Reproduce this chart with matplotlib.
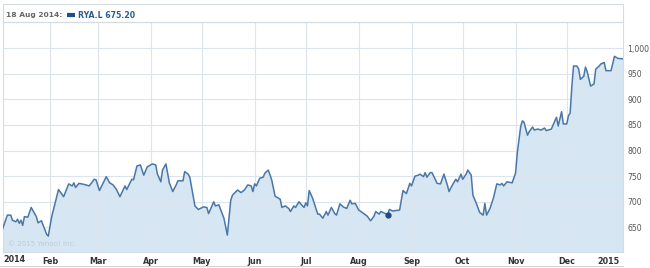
import matplotlib
matplotlib.use('Agg')
import matplotlib.pyplot as plt
from matplotlib.lines import Line2D
from matplotlib.patches import Rectangle
import pandas as pd

# RYA.L daily close (extremes of the curve)
dates = ['2014-01-04', '2014-01-07', '2014-01-09', '2014-01-10', '2014-01-12', '2014-01-13',
         '2014-01-14', '2014-01-15', '2014-01-16', '2014-01-17', '2014-01-19', '2014-01-21',
         '2014-01-24', '2014-01-25', '2014-01-27', '2014-01-30', '2014-01-31', '2014-02-02',
         '2014-02-03', '2014-02-06', '2014-02-09', '2014-02-12', '2014-02-14', '2014-02-15',
         '2014-02-16', '2014-02-18', '2014-02-21', '2014-02-24', '2014-02-27', '2014-02-28',
         '2014-03-02', '2014-03-06', '2014-03-08', '2014-03-10', '2014-03-12', '2014-03-14',
         '2014-03-17', '2014-03-18', '2014-03-21', '2014-03-22', '2014-03-24', '2014-03-26',
         '2014-03-28', '2014-03-30', '2014-04-02', '2014-04-04', '2014-04-05', '2014-04-07',
         '2014-04-08', '2014-04-10', '2014-04-12', '2014-04-14', '2014-04-16', '2014-04-17',
         '2014-04-20', '2014-04-21', '2014-04-23', '2014-04-24', '2014-04-27', '2014-04-29',
         '2014-05-02', '2014-05-04', '2014-05-05', '2014-05-08', '2014-05-09', '2014-05-11',
         '2014-05-14', '2014-05-16', '2014-05-18', '2014-05-19', '2014-05-22', '2014-05-24',
         '2014-05-26', '2014-05-28', '2014-05-30', '2014-05-31', '2014-06-01', '2014-06-02',
         '2014-06-04', '2014-06-06', '2014-06-07', '2014-06-09', '2014-06-11', '2014-06-13',
         '2014-06-16', '2014-06-17', '2014-06-19', '2014-06-21', '2014-06-22', '2014-06-24',
         '2014-06-25', '2014-06-27', '2014-06-28', '2014-06-30', '2014-07-01', '2014-07-02',
         '2014-07-03', '2014-07-05', '2014-07-08', '2014-07-09', '2014-07-11', '2014-07-13',
         '2014-07-14', '2014-07-16', '2014-07-18', '2014-07-19', '2014-07-21', '2014-07-23',
         '2014-07-25', '2014-07-27', '2014-07-28', '2014-07-30', '2014-08-01', '2014-08-04',
         '2014-08-06', '2014-08-08', '2014-08-10', '2014-08-11', '2014-08-13', '2014-08-14',
         '2014-08-18', '2014-08-19', '2014-08-21', '2014-08-25', '2014-08-27', '2014-08-29',
         '2014-08-31', '2014-09-01', '2014-09-03', '2014-09-05', '2014-09-06', '2014-09-08',
         '2014-09-09', '2014-09-10', '2014-09-12', '2014-09-13', '2014-09-16', '2014-09-18',
         '2014-09-20', '2014-09-22', '2014-09-23', '2014-09-25', '2014-09-27', '2014-09-28',
         '2014-09-30', '2014-10-01', '2014-10-03', '2014-10-04', '2014-10-06', '2014-10-07',
         '2014-10-09', '2014-10-11', '2014-10-13', '2014-10-14', '2014-10-15', '2014-10-17',
         '2014-10-19', '2014-10-21', '2014-10-23', '2014-10-24', '2014-10-25', '2014-10-27',
         '2014-10-30', '2014-11-01', '2014-11-02', '2014-11-04', '2014-11-05', '2014-11-06',
         '2014-11-08', '2014-11-09', '2014-11-11', '2014-11-12', '2014-11-14', '2014-11-16',
         '2014-11-18', '2014-11-19', '2014-11-22', '2014-11-23', '2014-11-25', '2014-11-26',
         '2014-11-28', '2014-11-29', '2014-12-01', '2014-12-02', '2014-12-03', '2014-12-04',
         '2014-12-05', '2014-12-07', '2014-12-08', '2014-12-09', '2014-12-11', '2014-12-12',
         '2014-12-13', '2014-12-15', '2014-12-17', '2014-12-18', '2014-12-20', '2014-12-21',
         '2014-12-23', '2014-12-24', '2014-12-27', '2014-12-29', '2014-12-31', '2015-01-03']
prices = [645, 674, 674, 664, 661, 666, 658, 664, 654, 671, 670, 689,
          671, 659, 663, 637, 633, 671, 684, 724, 710, 735, 731, 737,
          728, 736, 734, 731, 744, 743, 722, 749, 737, 733, 724, 710,
          731, 724, 744, 743, 770, 772, 752, 768, 774, 772, 754, 739,
          762, 774, 737, 720, 733, 741, 741, 759, 754, 748, 692, 685,
          690, 689, 677, 700, 692, 694, 668, 635, 703, 713, 723, 718,
          723, 733, 731, 720, 735, 731, 746, 748, 756, 762, 743, 711,
          705, 689, 692, 687, 681, 692, 689, 700, 696, 689, 698, 692,
          722, 707, 676, 676, 668, 681, 674, 689, 677, 674, 696, 690,
          687, 703, 696, 697, 684, 677, 672, 663, 672, 681, 676, 681,
          675.2, 685, 682, 684, 722, 716, 736, 731, 750, 752, 754, 749,
          757, 748, 757, 757, 736, 735, 754, 733, 720, 733, 744, 739,
          754, 744, 754, 762, 752, 713, 697, 679, 674, 697, 674, 687,
          707, 735, 733, 736, 731, 739, 737, 756, 795, 847, 858, 855,
          830, 837, 846, 840, 842, 840, 844, 839, 842, 850, 865, 848,
          876, 852, 852, 868, 873, 925, 965, 965, 959, 939, 945, 963,
          954, 926, 930, 959, 965, 969, 972, 956, 956, 984, 980, 979]

marker_date = '2014-08-18'
marker_price = 675.20
month_ticks = ['2014-02-01', '2014-03-01', '2014-04-01', '2014-05-01', '2014-06-01',
               '2014-07-01', '2014-08-01', '2014-09-01', '2014-10-01', '2014-11-01',
               '2014-12-01', '2015-01-01']
month_labels = ['Feb', 'Mar', 'Apr', 'May', 'Jun', 'Jul', 'Aug', 'Sep', 'Oct', 'Nov', 'Dec', '2015']
y_ticks = [650, 700, 750, 800, 850, 900, 950, 1000]

W, H = 650, 268
fig = plt.figure(figsize=(W / 100, H / 100), dpi=100)
ax = fig.add_axes([3 / W, 16 / H, 620 / W, 230 / H])

x = pd.to_datetime(dates)
ax.fill_between(x, prices, 0, color='#d6e6f2', lw=0, zorder=1)
ax.plot(x, prices, color='#4977a8', lw=1.1, zorder=3)
ax.plot(pd.Timestamp(marker_date), marker_price, 'o', color='#1d4c82', ms=3.5, zorder=4)

ax.set_xlim(pd.Timestamp('2014-01-04 11:00'), pd.Timestamp('2015-01-03'))
ax.set_ylim(602, 1051)

ax.set_xticks(pd.to_datetime(month_ticks))
ax.set_xticklabels(month_labels)
ax.xaxis.get_ticklabels()[-1].set_ha('right')
ax.yaxis.tick_right()
ax.set_yticks(y_ticks)
ax.set_yticklabels(['{:,}'.format(v) for v in y_ticks])
ax.tick_params(axis='x', length=0, pad=3.5, labelsize=5.8, labelcolor='#333333')
ax.tick_params(axis='y', length=0, pad=3, labelsize=5.6, labelcolor='#555555')
for lab in ax.get_xticklabels():
    lab.set_fontweight('bold')
ax.grid(True, color='#dce5ed', lw=0.8, zorder=2)
ax.get_xgridlines()[-1].set_visible(False)
ax.set_axisbelow(False)
for s in ax.spines.values():
    s.set_color('#d3dbe3')
    s.set_linewidth(0.8)

# first year label sits at the left edge
ax.text(0.0, -0.012, '2014', transform=ax.transAxes, ha='left', va='top',
        fontsize=5.8, fontweight='bold', color='#333333')
ax.text(0.008, 0.035, '\u00a9 2015 Yahoo! Inc.', transform=ax.transAxes, ha='left',
        va='center', fontsize=5, color='#bccddb')

# header band with the hover readout
fig.add_artist(Rectangle((3 / W, 1 - 22 / H), 620 / W, 18 / H, transform=fig.transFigure,
                         fill=False, edgecolor='#d3dbe3', lw=0.8))
fig.text(6 / W, 1 - 15 / H, '18 Aug 2014:', ha='left', va='center', fontsize=5.4,
         fontweight='bold', color='#666666')
fig.add_artist(Line2D([67 / W, 75 / W], [1 - 15 / H, 1 - 15 / H], transform=fig.transFigure,
                      color='#1f4f8a', lw=3, solid_capstyle='butt'))
fig.text(78 / W, 1 - 15 / H, 'RYA.L 675.20', ha='left', va='center', fontsize=5.6,
         fontweight='bold', color='#2a5d9a')
fig.add_artist(Line2D([0, 623 / W], [1 - 265.5 / H, 1 - 265.5 / H], transform=fig.transFigure,
                      color='#d8d8d8', lw=0.8))

fig.savefig('out.png', dpi=100)
